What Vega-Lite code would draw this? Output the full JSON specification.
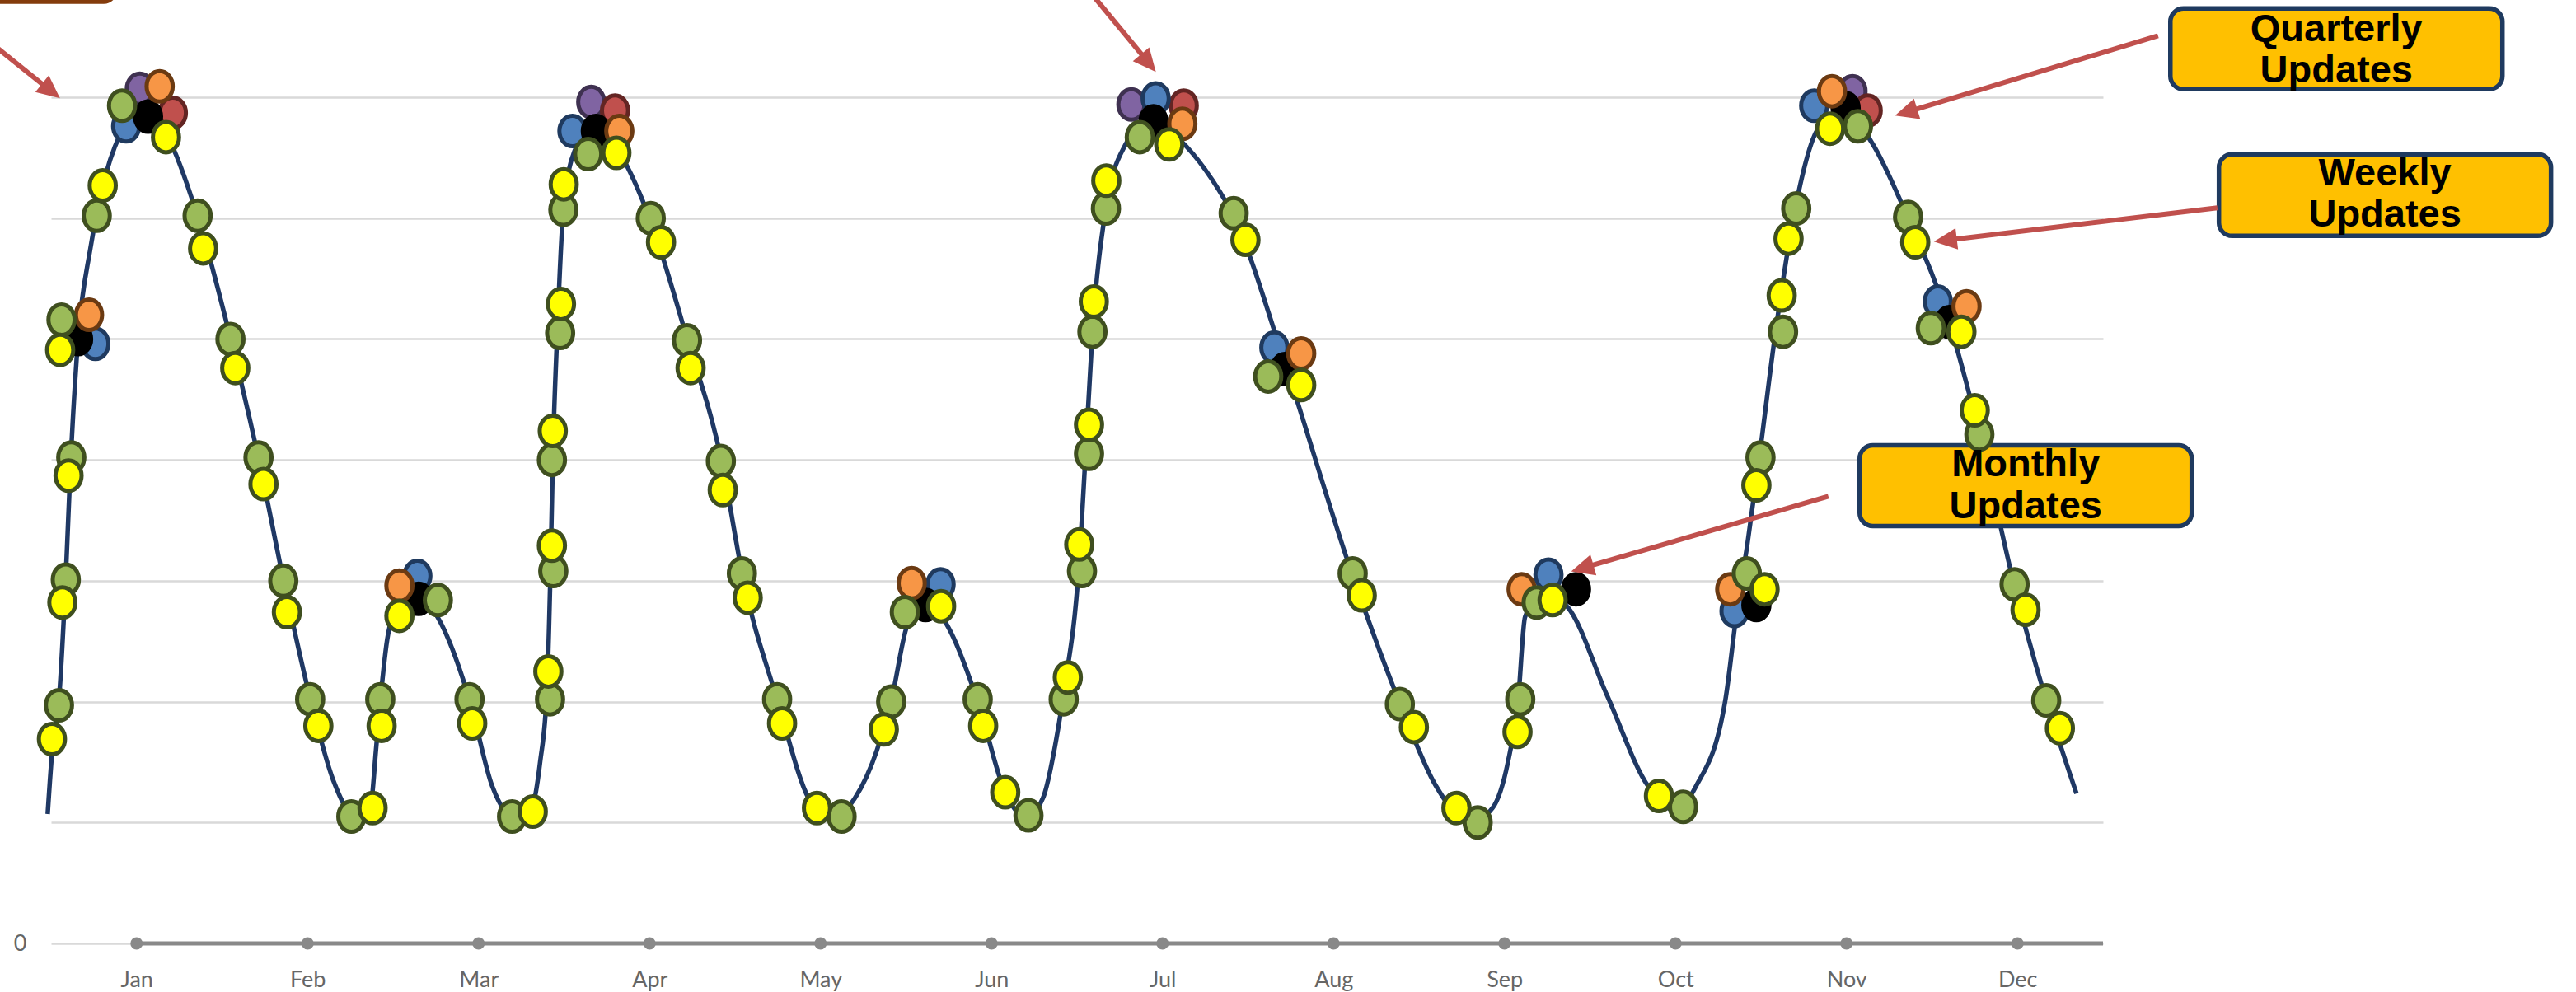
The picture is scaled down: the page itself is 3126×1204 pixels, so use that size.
{
  "$schema": "https://vega.github.io/schema/vega-lite/v6.json",
  "width": 2490,
  "height": 1027,
  "autosize": {"type": "none"},
  "padding": {"left": 62, "top": 118, "right": 574, "bottom": 59},
  "background": "white",
  "config": {"view": {"stroke": null}},
  "datasets": {
    "line": [
      {"m": -0.52, "v": 1.07}, {"m": -0.49, "v": 1.65}, {"m": -0.455, "v": 2.0}, {"m": -0.415, "v": 3.0}, {"m": -0.385, "v": 4.0},
      {"m": -0.342, "v": 5.0}, {"m": -0.27, "v": 5.75}, {"m": -0.2, "v": 6.25}, {"m": -0.1, "v": 6.68}, {"m": 0.0, "v": 6.86},
      {"m": 0.08, "v": 6.88}, {"m": 0.18, "v": 6.68}, {"m": 0.36, "v": 6.0}, {"m": 0.55, "v": 5.0}, {"m": 0.715, "v": 4.0},
      {"m": 0.86, "v": 3.0}, {"m": 1.02, "v": 2.0}, {"m": 1.15, "v": 1.35}, {"m": 1.3, "v": 1.02}, {"m": 1.37, "v": 1.15},
      {"m": 1.4, "v": 1.6}, {"m": 1.425, "v": 2.0}, {"m": 1.47, "v": 2.55}, {"m": 1.55, "v": 2.85}, {"m": 1.65, "v": 2.88},
      {"m": 1.76, "v": 2.7}, {"m": 1.95, "v": 2.0}, {"m": 2.08, "v": 1.3}, {"m": 2.22, "v": 1.03}, {"m": 2.31, "v": 1.12},
      {"m": 2.36, "v": 1.5}, {"m": 2.4, "v": 2.1}, {"m": 2.42, "v": 3.05}, {"m": 2.435, "v": 4.05}, {"m": 2.46, "v": 5.05},
      {"m": 2.495, "v": 6.05}, {"m": 2.56, "v": 6.55}, {"m": 2.68, "v": 6.77}, {"m": 2.82, "v": 6.55}, {"m": 3.0, "v": 6.0},
      {"m": 3.22, "v": 5.0}, {"m": 3.42, "v": 4.0}, {"m": 3.55, "v": 3.0}, {"m": 3.75, "v": 2.0}, {"m": 3.93, "v": 1.2},
      {"m": 4.05, "v": 1.03}, {"m": 4.2, "v": 1.2}, {"m": 4.33, "v": 1.6}, {"m": 4.42, "v": 2.05}, {"m": 4.5, "v": 2.6},
      {"m": 4.6, "v": 2.83}, {"m": 4.7, "v": 2.72}, {"m": 4.92, "v": 2.0}, {"m": 5.08, "v": 1.25}, {"m": 5.2, "v": 1.04},
      {"m": 5.3, "v": 1.2}, {"m": 5.38, "v": 1.7}, {"m": 5.425, "v": 2.1}, {"m": 5.51, "v": 3.1}, {"m": 5.55, "v": 4.05},
      {"m": 5.59, "v": 5.05}, {"m": 5.665, "v": 6.05}, {"m": 5.78, "v": 6.6}, {"m": 5.94, "v": 6.82}, {"m": 6.1, "v": 6.65},
      {"m": 6.25, "v": 6.4}, {"m": 6.42, "v": 6.0}, {"m": 6.72, "v": 4.78}, {"m": 7.11, "v": 3.05}, {"m": 7.39, "v": 1.98},
      {"m": 7.6, "v": 1.3}, {"m": 7.8, "v": 1.0}, {"m": 7.93, "v": 1.12}, {"m": 8.02, "v": 1.5}, {"m": 8.08, "v": 2.02},
      {"m": 8.12, "v": 2.7}, {"m": 8.2, "v": 2.86}, {"m": 8.3, "v": 2.86}, {"m": 8.37, "v": 2.78}, {"m": 8.6, "v": 2.05},
      {"m": 8.84, "v": 1.3}, {"m": 9.0, "v": 1.1}, {"m": 9.12, "v": 1.3}, {"m": 9.29, "v": 2.0}, {"m": 9.36, "v": 2.76},
      {"m": 9.42, "v": 3.3}, {"m": 9.49, "v": 4.02}, {"m": 9.585, "v": 5.06}, {"m": 9.7, "v": 6.08}, {"m": 9.84, "v": 6.75},
      {"m": 10.0, "v": 6.88}, {"m": 10.15, "v": 6.62}, {"m": 10.36, "v": 6.0}, {"m": 10.6, "v": 5.14}, {"m": 10.78, "v": 4.2},
      {"m": 10.98, "v": 2.97}, {"m": 11.17, "v": 2.0}, {"m": 11.345, "v": 1.24}
    ],
    "dots": [
      {"s": "purple", "m": 0.019, "v": 7.07}, {"s": "purple", "m": 2.659, "v": 6.96}, {"s": "purple", "m": 5.818, "v": 6.94}, {"s": "purple", "m": 10.035, "v": 7.05},
      {"s": "red", "m": 0.212, "v": 6.87}, {"s": "red", "m": 2.798, "v": 6.89}, {"s": "red", "m": 6.124, "v": 6.93}, {"s": "red", "m": 10.124, "v": 6.89},
      {"s": "blue", "m": -0.241, "v": 4.96}, {"s": "blue", "m": -0.061, "v": 6.76}, {"s": "blue", "m": 1.642, "v": 3.04}, {"s": "blue", "m": 2.549, "v": 6.72},
      {"s": "blue", "m": 4.702, "v": 2.97}, {"s": "blue", "m": 5.96, "v": 6.99}, {"s": "blue", "m": 6.654, "v": 4.93}, {"s": "blue", "m": 8.257, "v": 3.05},
      {"s": "blue", "m": 9.345, "v": 2.75}, {"s": "blue", "m": 9.811, "v": 6.93}, {"s": "blue", "m": 10.534, "v": 5.31},
      {"s": "black", "m": -0.342, "v": 5.0}, {"s": "black", "m": 0.067, "v": 6.84}, {"s": "black", "m": 1.65, "v": 2.85}, {"s": "black", "m": 2.686, "v": 6.72},
      {"s": "black", "m": 4.614, "v": 2.8}, {"s": "black", "m": 5.947, "v": 6.8}, {"s": "black", "m": 6.715, "v": 4.75}, {"s": "black", "m": 8.418, "v": 2.93},
      {"s": "black", "m": 9.473, "v": 2.8}, {"s": "black", "m": 9.995, "v": 6.91}, {"s": "black", "m": 10.602, "v": 5.14},
      {"s": "orange", "m": -0.278, "v": 5.2}, {"s": "orange", "m": 0.135, "v": 7.09}, {"s": "orange", "m": 1.537, "v": 2.96}, {"s": "orange", "m": 2.823, "v": 6.72},
      {"s": "orange", "m": 4.533, "v": 2.98}, {"s": "orange", "m": 6.116, "v": 6.78}, {"s": "orange", "m": 6.811, "v": 4.88}, {"s": "orange", "m": 8.1, "v": 2.93},
      {"s": "orange", "m": 9.32, "v": 2.93}, {"s": "orange", "m": 9.915, "v": 7.05}, {"s": "orange", "m": 10.702, "v": 5.27},
      {"s": "green", "m": -0.454, "v": 1.97}, {"s": "green", "m": -0.414, "v": 3.01}, {"s": "green", "m": -0.382, "v": 4.02}, {"s": "green", "m": -0.439, "v": 5.16},
      {"s": "green", "m": -0.233, "v": 6.02}, {"s": "green", "m": -0.085, "v": 6.93}, {"s": "green", "m": 0.357, "v": 6.02}, {"s": "green", "m": 0.549, "v": 5.0},
      {"s": "green", "m": 0.713, "v": 4.02}, {"s": "green", "m": 0.858, "v": 3.0}, {"s": "green", "m": 1.015, "v": 2.02}, {"s": "green", "m": 1.256, "v": 1.05},
      {"s": "green", "m": 1.425, "v": 2.02}, {"s": "green", "m": 1.762, "v": 2.84}, {"s": "green", "m": 1.947, "v": 2.02}, {"s": "green", "m": 2.196, "v": 1.05},
      {"s": "green", "m": 2.418, "v": 2.02}, {"s": "green", "m": 2.437, "v": 3.08}, {"s": "green", "m": 2.429, "v": 4.0}, {"s": "green", "m": 2.477, "v": 5.05},
      {"s": "green", "m": 2.496, "v": 6.07}, {"s": "green", "m": 2.641, "v": 6.53}, {"s": "green", "m": 3.007, "v": 6.0}, {"s": "green", "m": 3.219, "v": 4.99},
      {"s": "green", "m": 3.417, "v": 3.99}, {"s": "green", "m": 3.54, "v": 3.06}, {"s": "green", "m": 3.746, "v": 2.02}, {"s": "green", "m": 4.123, "v": 1.05},
      {"s": "green", "m": 4.413, "v": 2.0}, {"s": "green", "m": 4.493, "v": 2.74}, {"s": "green", "m": 4.919, "v": 2.02}, {"s": "green", "m": 5.216, "v": 1.06},
      {"s": "green", "m": 5.422, "v": 2.02}, {"s": "green", "m": 5.529, "v": 3.08}, {"s": "green", "m": 5.57, "v": 4.05}, {"s": "green", "m": 5.59, "v": 5.06},
      {"s": "green", "m": 5.669, "v": 6.08}, {"s": "green", "m": 5.867, "v": 6.67}, {"s": "green", "m": 6.416, "v": 6.04}, {"s": "green", "m": 6.618, "v": 4.69},
      {"s": "green", "m": 7.112, "v": 3.06}, {"s": "green", "m": 7.388, "v": 1.98}, {"s": "green", "m": 7.843, "v": 1.0}, {"s": "green", "m": 8.092, "v": 2.02},
      {"s": "green", "m": 8.188, "v": 2.82}, {"s": "green", "m": 9.044, "v": 1.13}, {"s": "green", "m": 9.417, "v": 3.06}, {"s": "green", "m": 9.497, "v": 4.02},
      {"s": "green", "m": 9.629, "v": 5.06}, {"s": "green", "m": 9.706, "v": 6.08}, {"s": "green", "m": 10.067, "v": 6.76}, {"s": "green", "m": 10.36, "v": 6.01},
      {"s": "green", "m": 10.493, "v": 5.09}, {"s": "green", "m": 10.777, "v": 4.21}, {"s": "green", "m": 10.983, "v": 2.97}, {"s": "green", "m": 11.168, "v": 2.01},
      {"s": "yellow", "m": -0.495, "v": 1.69}, {"s": "yellow", "m": -0.434, "v": 2.82}, {"s": "yellow", "m": -0.398, "v": 3.87}, {"s": "yellow", "m": -0.447, "v": 4.91},
      {"s": "yellow", "m": -0.198, "v": 6.27}, {"s": "yellow", "m": 0.172, "v": 6.67}, {"s": "yellow", "m": 0.389, "v": 5.75}, {"s": "yellow", "m": 0.577, "v": 4.76},
      {"s": "yellow", "m": 0.742, "v": 3.8}, {"s": "yellow", "m": 0.879, "v": 2.74}, {"s": "yellow", "m": 1.063, "v": 1.8}, {"s": "yellow", "m": 1.38, "v": 1.12},
      {"s": "yellow", "m": 1.433, "v": 1.8}, {"s": "yellow", "m": 1.537, "v": 2.71}, {"s": "yellow", "m": 1.963, "v": 1.82}, {"s": "yellow", "m": 2.317, "v": 1.09},
      {"s": "yellow", "m": 2.408, "v": 2.25}, {"s": "yellow", "m": 2.429, "v": 3.29}, {"s": "yellow", "m": 2.434, "v": 4.24}, {"s": "yellow", "m": 2.482, "v": 5.29},
      {"s": "yellow", "m": 2.498, "v": 6.28}, {"s": "yellow", "m": 2.806, "v": 6.54}, {"s": "yellow", "m": 3.067, "v": 5.8}, {"s": "yellow", "m": 3.24, "v": 4.76},
      {"s": "yellow", "m": 3.428, "v": 3.75}, {"s": "yellow", "m": 3.574, "v": 2.86}, {"s": "yellow", "m": 3.775, "v": 1.82}, {"s": "yellow", "m": 3.979, "v": 1.12},
      {"s": "yellow", "m": 4.37, "v": 1.77}, {"s": "yellow", "m": 4.705, "v": 2.79}, {"s": "yellow", "m": 4.951, "v": 1.8}, {"s": "yellow", "m": 5.08, "v": 1.25},
      {"s": "yellow", "m": 5.446, "v": 2.2}, {"s": "yellow", "m": 5.513, "v": 3.3}, {"s": "yellow", "m": 5.57, "v": 4.29}, {"s": "yellow", "m": 5.598, "v": 5.31},
      {"s": "yellow", "m": 5.671, "v": 6.31}, {"s": "yellow", "m": 6.039, "v": 6.61}, {"s": "yellow", "m": 6.485, "v": 5.82}, {"s": "yellow", "m": 6.811, "v": 4.62},
      {"s": "yellow", "m": 7.165, "v": 2.88}, {"s": "yellow", "m": 7.47, "v": 1.79}, {"s": "yellow", "m": 7.719, "v": 1.12}, {"s": "yellow", "m": 8.076, "v": 1.75},
      {"s": "yellow", "m": 8.281, "v": 2.84}, {"s": "yellow", "m": 8.903, "v": 1.22}, {"s": "yellow", "m": 9.521, "v": 2.93}, {"s": "yellow", "m": 9.473, "v": 3.79},
      {"s": "yellow", "m": 9.621, "v": 5.36}, {"s": "yellow", "m": 9.661, "v": 5.83}, {"s": "yellow", "m": 9.904, "v": 6.74}, {"s": "yellow", "m": 10.402, "v": 5.8},
      {"s": "yellow", "m": 10.672, "v": 5.06}, {"s": "yellow", "m": 10.75, "v": 4.41}, {"s": "yellow", "m": 11.047, "v": 2.76}, {"s": "yellow", "m": 11.248, "v": 1.78}
    ],
    "axisline": [{"m": 0, "m2": 11.5, "v": 0}],
    "axisdots": [
      {"m": 0, "v": 0}, {"m": 1, "v": 0}, {"m": 2, "v": 0}, {"m": 3, "v": 0}, {"m": 4, "v": 0}, {"m": 5, "v": 0},
      {"m": 6, "v": 0}, {"m": 7, "v": 0}, {"m": 8, "v": 0}, {"m": 9, "v": 0}, {"m": 10, "v": 0}, {"m": 11, "v": 0}
    ],
    "boxes": [
      {"name": "Quarterly", "m": 11.894, "m2": 13.836, "v": 7.734, "v2": 7.066},
      {"name": "Weekly", "m": 12.178, "m2": 14.12, "v": 6.528, "v2": 5.853},
      {"name": "Monthly", "m": 10.077, "m2": 12.019, "v": 4.121, "v2": 3.453}
    ],
    "brownbox": [{"m": -0.9, "m2": -0.125, "v": 8.4, "v2": 7.789}],
    "labels": [
      {"text": "Quarterly", "m": 12.865, "v": 7.465}, {"text": "Updates", "m": 12.865, "v": 7.12},
      {"text": "Weekly", "m": 13.149, "v": 6.272}, {"text": "Updates", "m": 13.149, "v": 5.927},
      {"text": "Monthly", "m": 11.048, "v": 3.865}, {"text": "Updates", "m": 11.048, "v": 3.52}
    ],
    "arrows": [
      {"id": "Q", "m": 11.822, "v": 7.509, "m2": 10.367, "v2": 6.883, "tm": 10.284, "tv": 6.848},
      {"id": "W", "m": 12.169, "v": 6.085, "m2": 10.597, "v2": 5.819, "tm": 10.511, "tv": 5.805},
      {"id": "M", "m": 9.894, "v": 3.699, "m2": 8.474, "v2": 3.112, "tm": 8.39, "tv": 3.078},
      {"id": "TL", "m": -0.993, "v": 7.611, "m2": -0.516, "v2": 7.068, "tm": -0.448, "tv": 6.991},
      {"id": "J", "m": 5.417, "v": 8.143, "m2": 5.907, "v2": 7.304, "tm": 5.961, "tv": 7.209}
    ]
  },
  "encoding": {
    "x": {"field": "m", "type": "quantitative", "title": null,
      "scale": {"domain": [-0.5, 11.5], "nice": false, "zero": false}},
    "y": {"field": "v", "type": "quantitative", "title": null,
      "scale": {"domain": [0, 7], "nice": false, "zero": false}}
  },
  "layer": [
    {
      "data": {"name": "brownbox"},
      "mark": {"type": "rect", "fill": "#FFC000", "stroke": "#843C0C", "strokeWidth": 5, "cornerRadius": 14, "clip": false},
      "encoding": {"x2": {"field": "m2"}, "y2": {"field": "v2"}}
    },
    {
      "data": {"name": "axisdots"},
      "mark": {"type": "point", "opacity": 0},
      "encoding": {
        "x": {"field": "m", "type": "quantitative", "title": null,
          "axis": {"values": [0,1,2,3,4,5,6,7,8,9,10,11], "domain": false, "ticks": false, "grid": false,
            "labelExpr": "['Jan','Feb','Mar','Apr','May','Jun','Jul','Aug','Sep','Oct','Nov','Dec'][datum.value]",
            "labelFont": "Lato", "labelFontSize": 27, "labelColor": "#666666", "labelPadding": 31, "labelFlush": false, "labelOverlap": false}},
        "y": {"field": "v", "type": "quantitative", "title": null,
          "axis": {"values": [0,1,2,3,4,5,6,7], "domain": false, "ticks": false, "grid": true, "gridColor": "#d9d9d9", "gridWidth": 2.5,
            "labelExpr": "datum.value === 0 ? '0' : ''", "labelFont": "Lato", "labelFontSize": 27, "labelColor": "#666666", "labelPadding": 30}}
      }
    },
    {
      "data": {"name": "axisline"},
      "mark": {"type": "rule", "color": "#898989", "strokeWidth": 5, "clip": false},
      "encoding": {"x2": {"field": "m2"}}
    },
    {
      "data": {"name": "axisdots"},
      "mark": {"type": "point", "shape": "circle", "filled": true, "color": "#898989", "opacity": 1, "size": 225, "clip": false},
      "encoding": {}
    },
    {
      "data": {"name": "line"},
      "mark": {"type": "line", "interpolate": "monotone", "color": "#1F3864", "strokeWidth": 5.5, "clip": false},
      "encoding": {}
    },
    {
      "data": {"name": "boxes"},
      "mark": {"type": "rect", "fill": "#FFC000", "stroke": "#1F3A5F", "strokeWidth": 5.5, "cornerRadius": 16, "clip": false},
      "encoding": {"x2": {"field": "m2"}, "y2": {"field": "v2"}}
    },
    {
      "data": {"name": "dots"},
      "mark": {"type": "point", "filled": true, "opacity": 1, "strokeWidth": 5, "size": 1369, "clip": false,
        "shape": "M0,-1A0.857,1,0,1,1,0,1A0.857,1,0,1,1,0,-1Z"},
      "encoding": {
        "fill": {"field": "s", "type": "nominal", "legend": null,
          "scale": {"domain": ["purple", "red", "blue", "black", "orange", "green", "yellow"],
                    "range": ["#8064A2", "#C0504D", "#4F81BD", "#000000", "#F79646", "#9BBB59", "#FFFF00"]}},
        "stroke": {"field": "s", "type": "nominal", "legend": null,
          "scale": {"domain": ["purple", "red", "blue", "black", "orange", "green", "yellow"],
                    "range": ["#3F3151", "#632523", "#1F3A5F", "#000000", "#6B3A12", "#3F4F1F", "#3F4F1F"]}}
      }
    },
    {
      "data": {"name": "labels"},
      "mark": {"type": "text", "font": "Liberation Sans", "fontWeight": "bold", "fontSize": 47, "color": "#000000",
        "align": "center", "baseline": "alphabetic", "clip": false},
      "encoding": {"text": {"field": "text"}}
    },
    {
      "data": {"name": "arrows"},
      "mark": {"type": "rule", "color": "#C0504D", "strokeWidth": 6, "clip": false},
      "encoding": {"x2": {"field": "m2"}, "y2": {"field": "v2"}}
    },
    {
      "data": {"name": "arrows"},
      "transform": [{"filter": "datum.id === 'Q'"}],
      "mark": {"type": "point", "filled": true, "opacity": 1, "color": "#C0504D", "size": 1600, "angle": 253, "clip": false, "shape": "M0,0L0.65,1.4L-0.65,1.4Z"},
      "encoding": {"x": {"field": "tm", "type": "quantitative"}, "y": {"field": "tv", "type": "quantitative"}}
    },
    {
      "data": {"name": "arrows"},
      "transform": [{"filter": "datum.id === 'W'"}],
      "mark": {"type": "point", "filled": true, "opacity": 1, "color": "#C0504D", "size": 1600, "angle": 263, "clip": false, "shape": "M0,0L0.65,1.4L-0.65,1.4Z"},
      "encoding": {"x": {"field": "tm", "type": "quantitative"}, "y": {"field": "tv", "type": "quantitative"}}
    },
    {
      "data": {"name": "arrows"},
      "transform": [{"filter": "datum.id === 'M'"}],
      "mark": {"type": "point", "filled": true, "opacity": 1, "color": "#C0504D", "size": 1600, "angle": 254, "clip": false, "shape": "M0,0L0.65,1.4L-0.65,1.4Z"},
      "encoding": {"x": {"field": "tm", "type": "quantitative"}, "y": {"field": "tv", "type": "quantitative"}}
    },
    {
      "data": {"name": "arrows"},
      "transform": [{"filter": "datum.id === 'TL'"}],
      "mark": {"type": "point", "filled": true, "opacity": 1, "color": "#C0504D", "size": 1600, "angle": 129, "clip": false, "shape": "M0,0L0.65,1.4L-0.65,1.4Z"},
      "encoding": {"x": {"field": "tm", "type": "quantitative"}, "y": {"field": "tv", "type": "quantitative"}}
    },
    {
      "data": {"name": "arrows"},
      "transform": [{"filter": "datum.id === 'J'"}],
      "mark": {"type": "point", "filled": true, "opacity": 1, "color": "#C0504D", "size": 1600, "angle": 140, "clip": false, "shape": "M0,0L0.65,1.4L-0.65,1.4Z"},
      "encoding": {"x": {"field": "tm", "type": "quantitative"}, "y": {"field": "tv", "type": "quantitative"}}
    }
  ]
}
